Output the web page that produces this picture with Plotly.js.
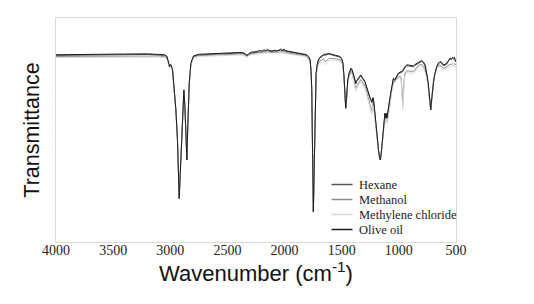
<!DOCTYPE html>
<html>
<head>
<meta charset="utf-8">
<script src="https://cdn.plot.ly/plotly-3.0.1.min.js"></script>
<style>html,body{margin:0;padding:0;background:#fff;}#chart{width:534px;height:304px;}</style>
</head>
<body>
<div id="chart"></div>
<script>
// Wavenumbers (cm-1), shared by all series
const wavenumber = [
4000,3800,3600,3400,3200,3100,3050,3030,3015,3006,
3000,2994,2980,2963,2951,2937,2928,2922,2915,2907,
2893,2881,2872,2863,2855,2846,2834,2820,2797,2750,
2680,2600,2500,2400,2360,2345,2330,2315,2290,2260,
2230,2210,2195,2180,2165,2150,2135,2110,2090,2070,
2050,2035,2020,2005,1990,1970,1950,1922,1880,1840,
1805,1790,1776,1768,1762,1755,1748,1740,1732,1724,
1714,1704,1690,1675,1660,1645,1630,1615,1600,1560,
1530,1514,1500,1490,1480,1472,1465,1458,1447,1435,
1425,1418,1410,1403,1395,1385,1377,1370,1362,1354,
1343,1333,1320,1308,1296,1285,1272,1262,1252,1245,
1237,1232,1225,1218,1208,1198,1188,1178,1168,1162,
1155,1145,1135,1128,1122,1116,1110,1104,1098,1092,
1085,1077,1068,1058,1048,1040,1033,1020,1004,990,
980,973,969,966,962,957,950,940,931,915,
900,873,860,845,829,815,800,785,771,760,
750,742,735,728,721,714,706,698,688,679,
669,655,640,626,611,596,581,566,552,540,
530,523,515,508,500];

const seriesNames = ["Hexane", "Methanol", "Methylene chloride", "Olive oil"];

const hexane = [
83.3,83.5,83.4,83.6,83.7,83.6,83.3,82.7,80.2,78.0,
79.0,78.8,76.6,67.6,58.8,45.4,30.2,19.8,28.2,38.2,
60.2,67.6,60.2,45.6,37.0,53.2,70.6,79.5,82.8,83.5,
83.7,83.9,84.1,84.3,84.2,83.5,83.1,83.7,84.4,84.6,
84.8,85.1,84.9,85.4,85.1,85.6,85.2,85.0,85.3,85.1,
85.3,85.7,85.3,85.6,85.1,84.9,84.6,84.3,84.0,83.7,
83.3,82.5,81.0,75.8,67.7,40.2,13.6,35.2,59.8,75.0,
79.2,81.0,82.2,82.9,83.3,83.4,83.7,83.8,83.7,83.3,
82.9,82.5,81.5,79.9,73.8,65.8,59.8,63.8,72.0,75.1,
76.8,77.2,76.6,75.7,74.1,72.1,70.5,71.6,72.1,72.7,
73.8,74.2,73.1,72.2,71.2,69.4,67.1,65.1,63.7,63.2,
62.1,63.0,64.0,61.6,55.7,49.8,45.4,41.0,37.6,36.8,
39.2,44.1,50.0,54.8,57.2,55.2,57.2,55.0,57.6,59.2,
61.6,64.1,67.5,70.1,72.7,72.4,72.0,73.6,75.0,75.4,
75.6,75.6,75.8,76.0,76.5,77.2,77.6,78.2,78.7,78.6,
78.4,78.2,78.8,79.4,79.7,80.2,80.6,80.0,78.7,76.1,
73.1,70.1,65.2,61.3,59.1,62.8,67.7,70.6,74.1,76.6,
77.9,79.4,80.2,79.8,78.7,78.9,79.4,80.6,81.7,81.4,
82.0,81.7,82.1,81.1,80.2];

const methanol = [
82.8,82.9,82.7,83.0,83.1,83.0,82.7,82.1,79.9,77.9,
78.9,78.7,76.5,67.6,58.8,45.4,30.1,19.5,28.1,38.1,
60.1,67.7,60.1,45.5,36.7,53.0,70.7,79.3,82.6,83.2,
83.4,83.5,83.7,83.9,83.8,83.1,82.8,83.4,84.1,84.2,
84.4,84.7,84.5,84.9,84.6,85.0,84.7,84.6,84.8,84.6,
84.8,85.0,84.8,85.0,84.6,84.4,84.2,84.0,83.7,83.4,
82.9,82.0,80.7,75.7,67.6,40.1,13.6,35.1,59.4,74.2,
78.3,80.0,80.8,81.4,81.7,80.6,81.0,81.9,82.0,81.9,
81.7,81.4,80.6,79.2,73.3,65.7,59.7,63.6,71.2,74.2,
75.9,76.2,75.5,74.5,72.4,70.0,68.5,69.5,70.3,71.0,
72.0,72.5,71.5,70.5,69.5,67.5,65.0,63.0,61.2,59.8,
58.5,59.8,62.0,60.0,54.8,49.0,44.8,40.7,37.4,36.6,
39.0,44.0,49.4,53.8,55.8,53.8,56.2,53.8,55.6,56.8,
59.6,62.1,66.6,69.6,71.0,71.5,72.0,73.0,73.8,74.0,
73.2,68.5,62.5,61.0,65.5,73.0,74.8,75.9,76.3,76.3,
76.2,76.2,76.7,77.6,78.9,79.1,79.3,78.6,77.0,74.8,
72.2,69.0,64.8,61.2,59.0,62.9,67.9,71.2,74.2,76.7,
77.9,78.6,79.0,78.5,77.6,77.8,78.3,78.7,79.3,79.3,
79.6,79.3,79.6,79.4,79.2];

const methyleneChloride = [
82.4,82.5,82.3,82.6,82.7,82.6,82.3,81.7,79.5,77.5,
78.5,78.3,76.2,67.5,58.7,45.3,30.0,19.6,28.0,38.0,
60.0,67.5,60.0,45.5,36.8,53.0,70.5,79.0,82.2,82.8,
83.0,83.1,83.3,83.5,83.4,82.8,82.5,83.0,83.7,83.8,
84.0,84.2,84.1,84.3,84.2,84.4,84.3,84.2,84.3,84.2,
84.3,84.4,84.3,84.4,84.2,84.0,83.8,83.6,83.3,83.0,
82.5,81.5,80.3,75.5,67.5,40.0,13.8,35.0,59.0,73.5,
77.5,79.0,79.8,80.3,80.5,79.2,79.8,81.0,81.2,81.2,
81.0,80.8,80.0,78.8,73.0,65.5,59.7,63.5,70.5,73.5,
75.2,75.5,74.8,73.8,71.5,69.0,67.5,68.5,69.3,70.0,
71.0,71.5,70.5,69.5,68.5,66.5,64.0,62.0,60.0,58.5,
57.0,58.5,61.0,59.0,54.0,48.5,44.5,40.5,37.3,36.6,
39.0,44.0,49.0,53.0,55.0,53.0,55.5,53.0,54.5,55.5,
58.5,61.0,66.0,69.2,70.1,70.8,71.6,72.5,73.1,73.2,
72.0,66.0,60.0,59.0,64.0,72.0,73.9,75.0,75.4,75.4,
75.4,75.4,75.8,76.8,78.3,78.5,78.6,77.8,76.1,74.0,
71.5,68.5,64.5,61.0,59.0,63.0,68.0,71.5,74.0,76.5,
77.6,78.0,78.3,77.8,76.9,77.1,77.6,77.8,78.3,78.3,
78.5,78.3,78.5,78.4,78.3];

const oliveOil = [
83.6,83.8,83.7,83.9,84.0,83.9,83.6,83.0,80.5,78.3,
79.3,79.1,76.9,67.9,59.0,45.5,30.0,19.4,28.0,38.0,
60.4,67.9,60.4,45.5,36.6,53.0,70.9,79.8,83.1,83.8,
84.0,84.2,84.4,84.6,84.5,83.8,83.4,84.0,84.8,84.9,
85.1,85.5,85.2,85.8,85.4,86.0,85.5,85.3,85.6,85.4,
85.6,86.1,85.6,86.0,85.4,85.2,84.9,84.6,84.3,84.0,
83.6,82.8,81.3,76.0,67.9,40.0,13.4,35.0,60.0,75.4,
79.5,81.3,82.5,83.2,83.6,83.8,84.0,84.1,84.0,83.6,
83.2,82.8,81.8,80.2,74.0,66.0,59.7,64.0,72.4,75.5,
77.2,77.6,77.0,76.1,74.5,72.5,70.9,72.0,72.5,73.1,
74.2,74.6,73.5,72.6,71.6,69.8,67.5,65.5,64.2,63.8,
62.7,63.5,64.5,62.0,56.0,50.0,45.5,41.0,37.5,36.6,
39.0,44.0,50.0,55.0,57.5,55.5,57.5,55.2,58.0,59.7,
62.0,64.5,67.9,70.5,73.1,72.8,72.4,74.0,75.4,75.8,
76.0,76.1,76.3,76.5,77.0,77.6,78.0,78.6,79.1,79.0,
78.8,78.6,79.2,79.8,80.1,80.6,81.0,80.4,79.1,76.5,
73.5,70.5,65.5,61.5,59.0,63.0,68.0,70.9,74.5,77.0,
78.3,79.8,80.6,80.2,79.1,79.3,79.8,81.0,82.1,81.8,
82.4,82.1,82.5,81.5,80.6];

const xTickValues = [4000, 3500, 3000, 2500, 2000, 1500, 1000, 500];
const xTickLabels = ["4000", "3500", "3000", "2500", "2000", "1500", "1000", "500"];

const seriesValues = [hexane, methanol, methyleneChloride, oliveOil];
const seriesColors = ["#555555", "#8e8e8e", "#d6d6d6", "#1c1c1c"];

const traces = seriesNames.map((name, i) => ({
  type: "scatter", mode: "lines", name: name,
  x: wavenumber, y: seriesValues[i],
  line: {color: seriesColors[i], width: 1},
  showlegend: false, hoverinfo: "skip"
}));

const SERIF = "Liberation Serif";
const SANS = "Liberation Sans";

// custom legend (compact rows), pixel positions converted to paper coords
const M = {l: 56, r: 78, t: 18, b: 62};
const W = 534, H = 304;
const pw = W - M.l - M.r, ph = H - M.t - M.b;
const px2x = p => (p - M.l) / pw;
const py2y = p => (H - M.b - p) / ph;
const legShapes = [], legAnn = [];
seriesNames.forEach((name, i) => {
  const yy = py2y(184.5 + i * 15);
  legShapes.push({type: "line", xref: "paper", yref: "paper",
    x0: px2x(331.5), x1: px2x(352.5), y0: yy, y1: yy,
    line: {color: seriesColors[i], width: 1.5}});
  legAnn.push({xref: "paper", yref: "paper", x: px2x(357), y: yy,
    xanchor: "left", yanchor: "middle", showarrow: false, text: name,
    font: {family: SERIF, size: 12.5, color: "#222"}});
});

const layout = {
  width: W, height: H,
  margin: M,
  paper_bgcolor: "#fff", plot_bgcolor: "#fff",
  showlegend: false,
  font: {family: SERIF, color: "#222"},
  xaxis: {
    range: [4000, 500], autorange: false,
    tickmode: "array", tickvals: xTickValues, ticktext: xTickLabels,
    ticks: "", showgrid: false, zeroline: false,
    showline: true, mirror: true, linecolor: "#dadada", linewidth: 1,
    ticklabelstandoff: -5,
    tickfont: {family: SERIF, size: 14, color: "#222"},
    title: {text: "Wavenumber (cm<sup>-1</sup>)", standoff: 2,
      font: {family: SANS, size: 22, color: "#111"}}
  },
  yaxis: {
    range: [0, 100], autorange: false,
    showticklabels: false, ticks: "", showgrid: false, zeroline: false,
    showline: true, mirror: true, linecolor: "#dadada", linewidth: 1,
    title: {text: "Transmittance", standoff: 9,
      font: {family: SANS, size: 21.5, color: "#111"}}
  },
  shapes: legShapes,
  annotations: legAnn
};

Plotly.newPlot("chart", traces, layout, {staticPlot: true, displayModeBar: false});
</script>
</body>
</html>
